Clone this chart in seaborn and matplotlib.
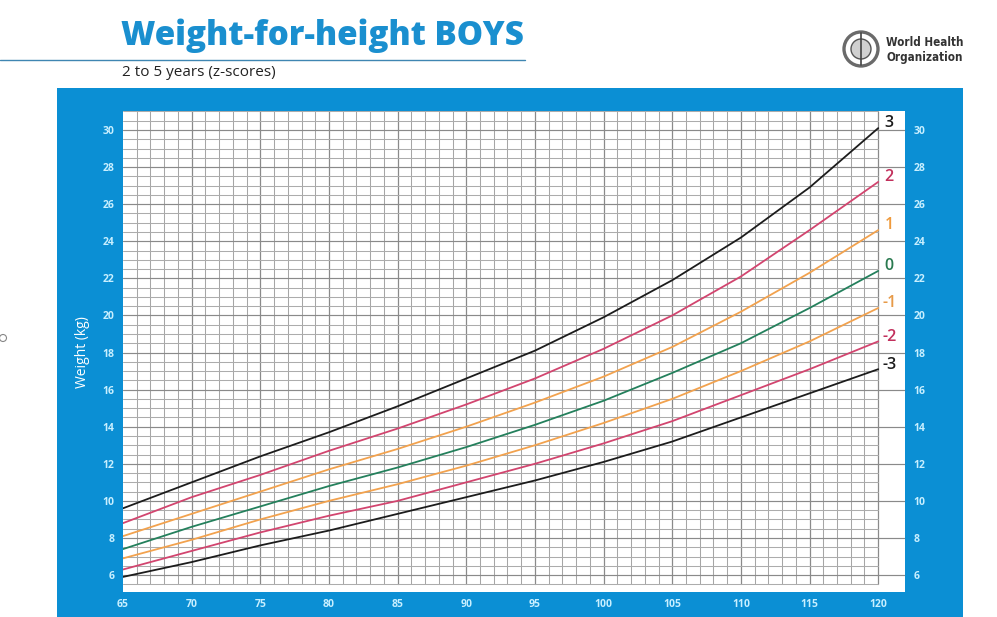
import pandas as pd
import matplotlib.pyplot as plt
import seaborn as sns
from matplotlib.patches import Rectangle, Ellipse
from matplotlib.lines import Line2D

# ==============================================================================
# DATOS
# ==============================================================================
height_cm = [65, 70, 75, 80, 85, 90, 95, 100, 105, 110, 115, 120]
z_plus3 = [9.6, 11.0, 12.4, 13.7, 15.1, 16.6, 18.1, 19.9, 21.9, 24.2, 26.9, 30.1]
z_plus2 = [8.8, 10.2, 11.4, 12.7, 13.9, 15.2, 16.6, 18.2, 20.0, 22.1, 24.6, 27.2]
z_plus1 = [8.1, 9.3, 10.5, 11.7, 12.8, 14.0, 15.3, 16.7, 18.3, 20.2, 22.3, 24.6]
z_zero = [7.4, 8.6, 9.7, 10.8, 11.8, 12.9, 14.1, 15.4, 16.9, 18.5, 20.4, 22.4]
z_minus1 = [6.9, 7.9, 9.0, 10.0, 10.9, 11.9, 13.0, 14.2, 15.5, 17.0, 18.6, 20.4]
z_minus2 = [6.3, 7.3, 8.3, 9.2, 10.0, 11.0, 12.0, 13.1, 14.3, 15.7, 17.1, 18.6]
z_minus3 = [5.9, 6.7, 7.6, 8.4, 9.3, 10.2, 11.1, 12.1, 13.2, 14.5, 15.8, 17.1]

z_labels = ['3', '2', '1', '0', '-1', '-2', '-3']
z_series = [z_plus3, z_plus2, z_plus1, z_zero, z_minus1, z_minus2, z_minus3]

x_ticks = list(range(65, 121, 5))
y_ticks = list(range(6, 31, 2))

# ==============================================================================
# ESTILO
# ==============================================================================
BLUE = '#0b8fd4'
TICK_COL = '#c8efff'
line_colors = {'3': '#1c1c1c', '2': '#d2456f', '1': '#f2a24e', '0': '#24805c',
               '-1': '#f2a24e', '-2': '#d2456f', '-3': '#1c1c1c'}
label_colors = {'3': '#1c1c1c', '2': '#c2305c', '1': '#ef9a3c', '0': '#2a7a50',
                '-1': '#e79a48', '-2': '#c2305c', '-3': '#1c1c1c'}

sns.set_theme(style="white")
plt.rcParams['font.family'] = ['Open Sans', 'DejaVu Sans']

df = pd.DataFrame({
    'Altura (cm)': height_cm * len(z_labels),
    'Peso (kg)': [v for s in z_series for v in s],
    'z': [z for z, s in zip(z_labels, z_series) for _ in s],
})

fig = plt.figure(figsize=(9.97, 6.17), dpi=100)
fig.patch.set_facecolor('white')

W, H = 997, 617
def fx(px):
    return px / W
def fy(py):
    return 1 - py / H

# panel azul
fig.patches.append(Rectangle((fx(57), 0), fx(963) - fx(57), fy(88), transform=fig.transFigure,
                             facecolor=BLUE, edgecolor='none', zorder=0))
# línea bajo el título
fig.add_artist(Line2D([0, fx(525)], [fy(60), fy(60)], transform=fig.transFigure,
                      color='#3f86b2', linewidth=1.0))

X_MAX = 121.95
Y_MIN, Y_MAX = 5.07, 31.04
ax = fig.add_axes([fx(123), fy(592.3), fx(905) - fx(123), fy(110.7) - fy(592.3)])
ax.set_zorder(5)
ax.set_facecolor('white')
ax.set_xlim(65, X_MAX)
ax.set_ylim(Y_MIN, Y_MAX)

# cuadrícula milimetrada
for x in range(66, 121):
    major = (x % 5 == 0)
    ax.plot([x, x], [5.5, 31.0], color='#8a8a8a' if major else '#a6a6a6',
            linewidth=0.9 if major else 0.75, zorder=1)
for i in range(0, 52):
    y = 5.5 + 0.5 * i
    if y > 31.0:
        break
    even = (abs(y - round(y)) < 1e-9 and int(round(y)) % 2 == 0)
    ax.plot([65, X_MAX if even else 120], [y, y], color='#8a8a8a' if even else '#acacac',
            linewidth=0.85 if even else 0.75, zorder=1)

sns.lineplot(data=df, x='Altura (cm)', y='Peso (kg)', hue='z', hue_order=z_labels,
             palette=line_colors, linewidth=1.3, legend=False, ax=ax, zorder=3)

for z, s in zip(z_labels, z_series):
    ax.text(120.8, s[-1] + 0.25, z, color=label_colors[z], fontsize=11.5, fontweight='semibold',
            ha='center', va='center', zorder=4)

for side in ax.spines.values():
    side.set_visible(False)
ax.set_xticks(x_ticks)
ax.set_yticks(y_ticks)
ax.set_xticklabels([str(v) for v in x_ticks])
ax.set_yticklabels([str(v) for v in y_ticks])
ax.tick_params(axis='both', length=0, labelsize=7.5, labelcolor=TICK_COL)
ax.tick_params(axis='x', pad=5)
ax.tick_params(axis='y', pad=6, labelright=True, right=True)
for lab in ax.get_xticklabels() + ax.get_yticklabels():
    lab.set_fontweight('bold')
ax.set_xlabel('')
ax.set_ylabel('')

fig.text(fx(82), fy(352), 'Weight (kg)', rotation=90, color='white', fontsize=10,
         ha='center', va='center')

# títulos
fig.text(fx(121), fy(36), 'Weight-for-height BOYS', color='#1a8fcf', fontsize=23.9,
         fontweight='heavy', ha='left', va='center')
fig.text(fx(122), fy(72), '2 to 5 years (z-scores)', color='#222222', fontsize=11,
         ha='left', va='center')

# logo OMS
fig.patches.append(Ellipse((fx(861), fy(49)), 34 / W, 34 / H, transform=fig.transFigure,
                           facecolor='white', edgecolor='#6a6a6a', linewidth=2.4))
fig.patches.append(Ellipse((fx(861), fy(49)), 20 / W, 20 / H, transform=fig.transFigure,
                           facecolor='#d0d0d0', edgecolor='#555555', linewidth=1.0))
fig.add_artist(Line2D([fx(861), fx(861)], [fy(33), fy(65)], transform=fig.transFigure,
                      color='#444444', linewidth=1.2))
fig.text(fx(886), fy(43), 'World Health', color='#333333', fontsize=8.4,
         family='DejaVu Sans', fontstretch='condensed', fontweight='bold', ha='left', va='center')
fig.text(fx(886), fy(57), 'Organization', color='#333333', fontsize=8.4,
         family='DejaVu Sans', fontstretch='condensed', fontweight='bold', ha='left', va='center')

# pequeña marca al borde izquierdo
fig.patches.append(Ellipse((fx(3), fy(338)), 7 / W, 7 / H, transform=fig.transFigure,
                           facecolor='none', edgecolor='#888888', linewidth=0.8))

plt.savefig('out.png', dpi=100)
